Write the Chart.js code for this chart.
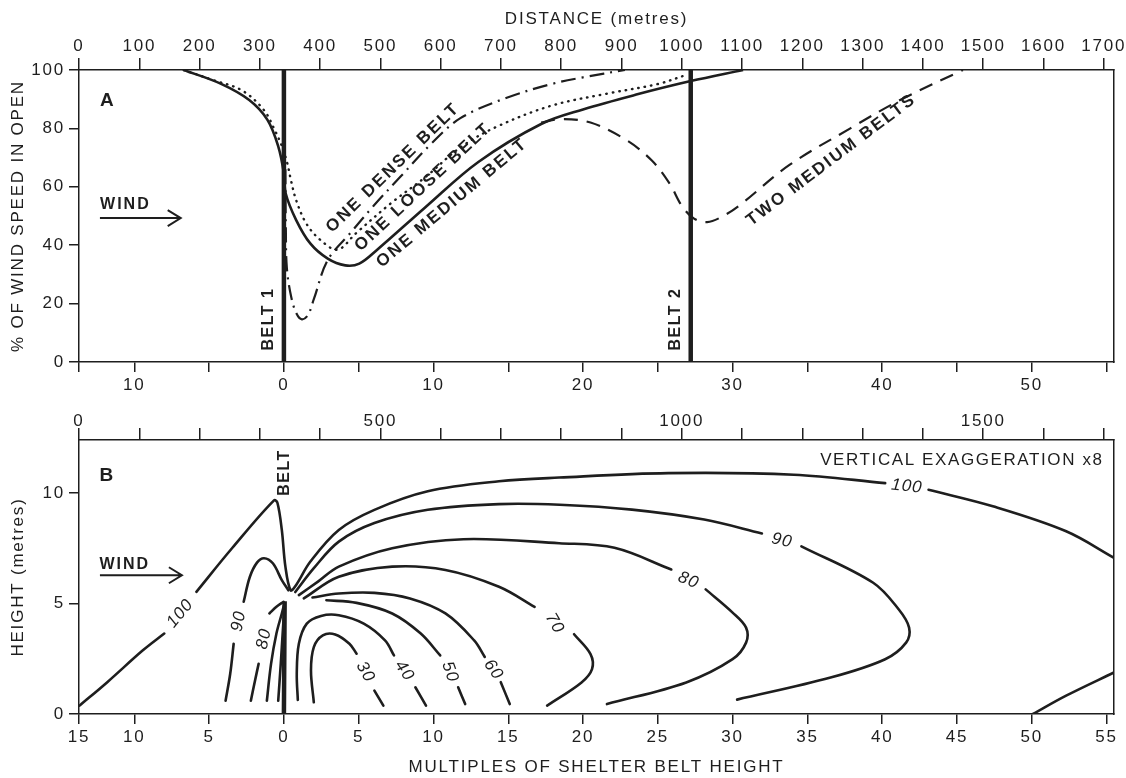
<!DOCTYPE html>
<html>
<head>
<meta charset="utf-8">
<script src="https://cdn.jsdelivr.net/npm/chart.js@4.4.1/dist/chart.umd.min.js"></script>
<style>
  body { margin: 0; background: #fff; }
  #wrap { position: relative; width: 1126px; height: 778px; }
  #panelA { position: absolute; left: 0; top: 0; }
  #panelB { position: absolute; left: 0; top: 400px; }
</style>
</head>
<body>
<div id="wrap">
  <canvas id="panelA" width="1126" height="400"></canvas>
  <canvas id="panelB" width="1126" height="378"></canvas>
</div>
<script>
const INK = '#1e1e1e';
const FONT = 'Liberation Sans';

// shared horizontal range, in multiples of belt height and in metres
const X_MIN = -13.7, X_MAX = 55.5;
const M_MAX = 1717;
const distanceTicks = [0, 100, 200, 300, 400, 500, 600, 700, 800, 900, 1000, 1100, 1200, 1300, 1400, 1500, 1600, 1700];
const multTicks = [-15, -10, -5, 0, 5, 10, 15, 20, 25, 30, 35, 40, 45, 50, 55];
const speedTicks = [0, 20, 40, 60, 80, 100];
const heightTicks = [0, 5, 10];

// ---- panel A: % of open wind speed along the ground ----
const oneMediumBelt = [[-6.7, 100], [-4.27, 95.4], [-2.32, 89.7], [-1.1, 82.9], [-0.37, 73.7], [0, 64.6], [0.12, 57.7],
  [0.82, 48.6], [1.76, 40.6], [2.93, 35.4], [4.1, 33.1], [5.04, 33.7], [6.2, 38.3], [9.48, 53.1], [13.0, 68.5],
  [17.2, 81.5], [20.0, 86.5], [23.5, 91.5], [27.2, 96.2], [30.7, 100]];
const oneLooseBelt = [[-6.7, 100], [-4.76, 96.6], [-2.8, 93], [-1.34, 86.3], [-0.61, 79.4], [-0.12, 73.7], [0.23, 68],
  [0.47, 62.3], [0.82, 55.4], [1.5, 47.4], [2.46, 41.7], [3.6, 38.5], [4.8, 44], [7.14, 54.3], [9.48, 63.4],
  [11.8, 73.5], [14.2, 80.5], [17.9, 87.8], [21.7, 92], [25.0, 95.2], [27.0, 98.5]];
const oneDenseBelt = [[0.1, 66], [0.13, 45], [0.2, 32], [0.5, 22], [0.85, 16.5], [1.2, 14.6], [1.6, 16], [2.0, 21.5],
  [2.93, 34.9], [4.5, 44.5], [6.0, 53.5], [7.8, 63.5], [9.8, 74.5], [11.8, 83.5], [14.9, 90.5], [17.9, 95.2],
  [20.0, 97.5], [22.8, 100]];
const twoMediumBelts = [[17.2, 82], [18.5, 83.2], [20.5, 82], [22.9, 76], [24.6, 69], [25.8, 61], [26.6, 53.5],
  [27.4, 49.2], [28.3, 47.9], [29.3, 49.8], [30.5, 53.8], [33.8, 67.5], [37.9, 80.1], [41.2, 89.7], [45.4, 100]];
const belt1 = [[0, 0], [0, 100]];
const belt2 = [[27.2, 0], [27.2, 100]];

// ---- panel B: contours of % wind speed, height in metres (null = gap for a label) ----
const c100 = [[-13.66, 0.38], [-11.81, 1.44], [-9.43, 2.88], [-8.0, 3.64], null, [-5.85, 5.53], [-3.47, 7.5],
  [-0.66, 9.67], [-0.43, 9.55], [-0.14, 8.33], [0.1, 6.67], [0.45, 5.6], [0.81, 5.83], [1.76, 6.89], [3.67, 8.33],
  [6.05, 9.24], [9.62, 10.08], [14.38, 10.53], [18.4, 10.7], [25.7, 10.9], [34.1, 10.83], [40.2, 10.45], null,
  [43.1, 10.15], [47.4, 9.4], [52.3, 8.27], [55.5, 7.07]];
const c100far = [[50.08, 0], [52.3, 0.83], [55.5, 1.88]];
const c90up = [[-3.9, 0.6], [-3.59, 1.82], [-3.36, 3.18], null, [-2.69, 5.08], [-2.28, 6.2], [-1.8, 6.85],
  [-1.33, 7.05], [-0.74, 6.82], [-0.14, 6.06], [0.3, 5.6]];
const c90 = [[0.76, 5.52], [2.0, 6.6], [3.67, 7.8], [6.05, 8.64], [9.62, 9.24], [14.38, 9.5], [18.44, 9.47],
  [23.27, 9.25], [28.1, 8.8], [31.96, 8.17], null, [34.6, 7.59], [39.4, 5.94], [41.1, 4.74], [41.8, 3.91],
  [41.6, 3.23], [40.2, 2.48], [36.55, 1.65], [30.3, 0.65]];
const c80up = [[-2.21, 0.6], [-1.93, 1.52], [-1.69, 2.27], null, [-0.97, 4.55], [-0.5, 4.85], [-0.02, 5.08]];
const c80 = [[1.0, 5.38], [2.3, 6.0], [3.67, 6.67], [7.24, 7.5], [12.0, 7.91], [18.4, 7.73], [22.1, 7.52],
  [25.9, 6.54], null, [28.2, 5.64], [30.0, 4.59], [30.9, 3.91], [30.9, 3.23], [30.0, 2.48], [26.9, 1.43], [21.6, 0.45]];
const c70up = [[-1.14, 0.6], [-0.86, 2.27], [-0.5, 3.64], [-0.14, 4.55], [0.03, 5.0]];
const c70 = [[1.33, 5.23], [3.67, 6.21], [7.24, 6.67], [10.8, 6.52], [14.38, 5.76], [16.76, 4.85], null,
  [19.4, 3.61], [20.5, 2.71], [20.6, 2.03], [19.9, 1.43], [17.6, 0.38]];
const c60up = [[-0.38, 0.6], [-0.21, 2.27], [-0.07, 3.79], [0.03, 4.85]];
const c60 = [[1.91, 5.27], [3.67, 5.45], [6.05, 5.48], [8.43, 5.23], [10.8, 4.55], [12.72, 3.33], [13.43, 2.58], null,
  [14.5, 1.44], [15.1, 0.45]];
const c50 = [[2.84, 5.15], [4.86, 5.03], [7.24, 4.55], [9.15, 3.64], [10.45, 2.65], null, [11.65, 1.21], [12.12, 0.45]];
const c40 = [[0.93, 0.64], [0.86, 1.82], [1.0, 3.18], [1.53, 4.09], [2.48, 4.44], [3.67, 4.47], [5.34, 4.09],
  [6.76, 3.33], [7.36, 2.65], null, [8.79, 1.21], [9.5, 0.38]];
const c30 = [[2.0, 0.53], [1.81, 1.97], [2.0, 3.03], [2.6, 3.56], [3.43, 3.6], [4.38, 3.18], [4.86, 2.73], null,
  [6.05, 1.06], [6.65, 0.38]];
const beltB = [[0, 0], [0.05, 5.1]];

// text placed on the charts (data coordinates)
const bold16 = 'bold 16px ' + FONT;
const bold17 = 'bold 17px ' + FONT;
const notesA = [
  { text: 'A', x: -11.8, y: 89.4, font: 'bold 19px ' + FONT },
  { text: 'WIND', x: -10.6, y: 53.8, font: bold16, spacing: '2px' },
  { arrow: [-12.3, -6.9], y: 49.3 },
  { text: 'BELT 1', x: -1.0, y: 14.7, rot: -90, font: bold16, spacing: '1.5px' },
  { text: 'BELT 2', x: 26.2, y: 14.7, rot: -90, font: bold16, spacing: '1.5px' },
  { text: 'ONE DENSE BELT', x: 7.3, y: 66.5, rot: -44, font: bold17, spacing: '2.2px' },
  { text: 'ONE LOOSE BELT', x: 9.3, y: 59.9, rot: -43, font: bold17, spacing: '2.2px' },
  { text: 'ONE MEDIUM BELT', x: 11.24, y: 54.5, rot: -40, font: bold17, spacing: '2.2px' },
  { text: 'TWO MEDIUM BELTS', x: 36.6, y: 69.2, rot: -37, font: bold17, spacing: '2.2px' }
];
const it17 = 'italic 17px ' + FONT;
const notesB = [
  { text: 'B', x: -11.84, y: 10.8, font: 'bold 19px ' + FONT },
  { text: 'WIND', x: -10.64, y: 6.78, font: bold16, spacing: '2px' },
  { arrow: [-12.3, -6.82], y: 6.28 },
  { text: 'BELT', x: 0.07, y: 10.93, rot: -90, font: bold16, spacing: '1.5px' },
  { text: 'VERTICAL EXAGGERATION x8', x: 54.8, y: 11.5, align: 'right', font: '17px ' + FONT, spacing: '1.6px' },
  { text: '100', x: -6.93, y: 4.55, rot: -50, font: it17 },
  { text: '90', x: -3.02, y: 4.2, rot: -80, font: it17 },
  { text: '80', x: -1.33, y: 3.4, rot: -78, font: it17 },
  { text: '30', x: 5.45, y: 1.9, rot: 60, font: it17 },
  { text: '40', x: 8.05, y: 1.95, rot: 55, font: it17 },
  { text: '50', x: 11.1, y: 1.9, rot: 70, font: it17 },
  { text: '60', x: 14.0, y: 2.0, rot: 55, font: it17 },
  { text: '70', x: 18.1, y: 4.1, rot: 60, font: it17 },
  { text: '80', x: 27.05, y: 6.05, rot: 22, font: it17 },
  { text: '90', x: 33.3, y: 7.85, rot: 12, font: it17 },
  { text: '100', x: 41.65, y: 10.3, rot: 6, font: it17 }
];

function pts(arr) {
  return arr.map((p, i) => p ? { x: p[0], y: p[1] } : { x: arr[i - 1][0], y: null });
}

function curve(arr, width, dash, cap) {
  return {
    data: pts(arr), xAxisID: 'x', yAxisID: 'y',
    borderColor: INK, borderWidth: width, borderDash: dash || [], borderCapStyle: cap || 'butt',
    pointRadius: 0, tension: 0.35, spanGaps: false, fill: false
  };
}

// axis text in the figure is widely tracked
const spacing = { id: 'spacing', beforeDraw(chart) { chart.ctx.letterSpacing = '1.8px'; } };

const notesPlugin = notes => ({
  id: 'notes',
  afterDatasetsDraw(chart) {
    const { ctx, scales: { x, y } } = chart;
    notes.forEach(n => {
      ctx.save();
      ctx.strokeStyle = INK;
      ctx.fillStyle = INK;
      if (n.arrow) {
        const x0 = x.getPixelForValue(n.arrow[0]), x1 = x.getPixelForValue(n.arrow[1]);
        const py = y.getPixelForValue(n.y);
        ctx.lineWidth = 2;
        ctx.beginPath();
        ctx.moveTo(x0, py); ctx.lineTo(x1, py);
        ctx.moveTo(x1 - 13, py - 8); ctx.lineTo(x1, py); ctx.lineTo(x1 - 13, py + 8);
        ctx.stroke();
      } else {
        ctx.translate(x.getPixelForValue(n.x), y.getPixelForValue(n.y));
        ctx.rotate((n.rot || 0) * Math.PI / 180);
        ctx.font = n.font;
        ctx.letterSpacing = n.spacing || '1px';
        ctx.textAlign = n.align || 'center';
        ctx.textBaseline = 'middle';
        ctx.fillText(n.text, 0, 0);
      }
      ctx.restore();
    });
  }
});

const tickFont = { family: FONT, size: 17 };
const titleFont = { family: FONT, size: 17 };

function axisGrid(len) {
  return { drawOnChartArea: false, tickLength: len, color: INK, lineWidth: 1.5 };
}
const frameBorder = { color: INK, width: 1.5 };

function buildScales(cfg) {
  return {
    x: {
      type: 'linear', position: 'bottom', min: X_MIN, max: X_MAX,
      afterBuildTicks: s => { s.ticks = multTicks.map(v => ({ value: Math.max(v, X_MIN) })); },
      ticks: { autoSkip: false, maxRotation: 0, padding: 3, color: INK, font: tickFont, callback: cfg.multLabel },
      grid: axisGrid(10), border: frameBorder,
      title: cfg.bottomTitle ? { display: true, text: cfg.bottomTitle, color: INK, font: titleFont, padding: { top: 6, bottom: 0 } } : { display: false },
      afterFit: s => { s.height = cfg.bottomH; s.paddingLeft = 0; s.paddingRight = 0; }
    },
    xTop: {
      type: 'linear', position: 'top', min: 0, max: M_MAX,
      afterBuildTicks: s => { s.ticks = distanceTicks.map(v => ({ value: v })); },
      ticks: { autoSkip: false, maxRotation: 0, padding: cfg.topPad, color: INK, font: tickFont, callback: cfg.distLabel },
      grid: axisGrid(12), border: frameBorder,
      title: cfg.topTitle ? { display: true, text: cfg.topTitle, color: INK, font: titleFont, padding: { top: 9, bottom: 0 } } : { display: false },
      afterFit: s => { s.height = cfg.topH; s.paddingLeft = 0; s.paddingRight = 0; }
    },
    y: {
      min: 0, max: cfg.yMax,
      afterBuildTicks: s => { s.ticks = cfg.yTicks.map(v => ({ value: v })); },
      ticks: { padding: 4, color: INK, font: tickFont },
      grid: axisGrid(10), border: frameBorder,
      title: { display: true, text: cfg.yTitle, color: INK, font: titleFont, padding: { top: 8, bottom: 0 } },
      afterFit: s => { s.width = 79; s.paddingTop = 0; s.paddingBottom = 0; }
    },
    yRight: {
      position: 'right', min: 0, max: cfg.yMax,
      ticks: { display: false }, grid: { display: false }, border: frameBorder,
      afterFit: s => { s.width = 12; }
    }
  };
}

const baseOptions = scales => ({
  responsive: false, animation: false,
  layout: { padding: 0 },
  plugins: { legend: { display: false }, tooltip: { enabled: false } },
  scales: scales
});

new Chart(document.getElementById('panelA'), {
  type: 'line',
  data: {
    datasets: [
      curve(oneDenseBelt, 2.2, [15, 6, 2, 6]),
      curve(oneLooseBelt, 2.4, [0.5, 6], 'round'),
      curve(twoMediumBelts, 2.2, [14, 9]),
      curve(oneMediumBelt, 2.6),
      curve(belt1, 4.5),
      curve(belt2, 4.5)
    ]
  },
  options: baseOptions(buildScales({
    yMax: 100, yTicks: speedTicks, yTitle: '% OF WIND SPEED IN OPEN',
    topTitle: 'DISTANCE (metres)', topH: 70, bottomH: 38, topPad: 1,
    multLabel: (v, i) => (multTicks[i] % 10 === 0 ? String(Math.abs(multTicks[i])) : ''),
    distLabel: v => String(v)
  })),
  plugins: [spacing, notesPlugin(notesA)]
});

new Chart(document.getElementById('panelB'), {
  type: 'line',
  data: {
    datasets: [c100, c100far, c90up, c90, c80up, c80, c70up, c70, c60up, c60, c50, c40, c30]
      .map(c => curve(c, 2.6, null, 'round'))
      .concat([curve(beltB, 4.5)])
  },
  options: baseOptions(buildScales({
    yMax: 12.4, yTicks: heightTicks, yTitle: 'HEIGHT (metres)',
    bottomTitle: 'MULTIPLES OF SHELTER BELT HEIGHT', topH: 40, bottomH: 64, topPad: -4,
    multLabel: (v, i) => String(Math.abs(multTicks[i])),
    distLabel: v => (v % 500 === 0 ? String(v) : '')
  })),
  plugins: [spacing, notesPlugin(notesB)]
});
</script>
</body>
</html>
